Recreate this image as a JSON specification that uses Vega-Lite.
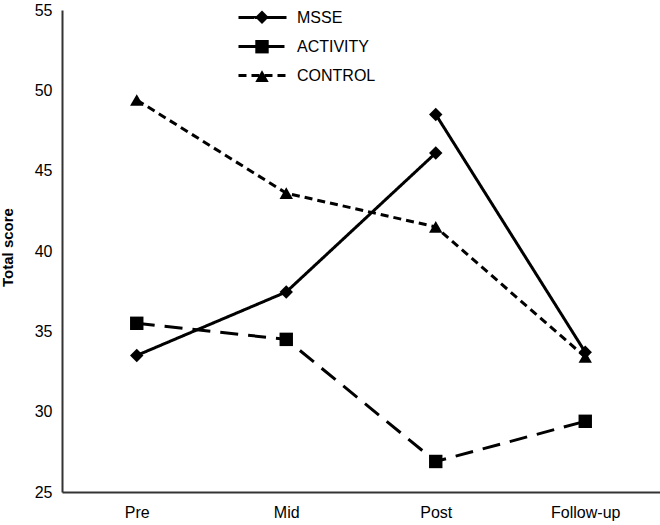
{
  "$schema": "https://vega.github.io/schema/vega-lite/v6.json",
  "width": 598,
  "height": 482,
  "autosize": {"type": "none"},
  "padding": {"left": 62, "top": 10, "right": 0, "bottom": 33},
  "background": "white",
  "config": {"view": {"stroke": null}, "font": "Liberation Sans"},
  "data": {
    "values": [
      {"group": "MSSE", "seg": "MSSE-a", "time": "Pre", "score": 33.5},
      {"group": "MSSE", "seg": "MSSE-a", "time": "Mid", "score": 37.45},
      {"group": "MSSE", "seg": "MSSE-a", "time": "Post", "score": 46.1},
      {"group": "MSSE", "seg": "MSSE-b", "time": "Post", "score": 48.5},
      {"group": "MSSE", "seg": "MSSE-b", "time": "Follow-up", "score": 33.7},
      {"group": "ACTIVITY", "seg": "ACTIVITY", "time": "Pre", "score": 35.5},
      {"group": "ACTIVITY", "seg": "ACTIVITY", "time": "Mid", "score": 34.5},
      {"group": "ACTIVITY", "seg": "ACTIVITY", "time": "Post", "score": 26.9},
      {"group": "ACTIVITY", "seg": "ACTIVITY", "time": "Follow-up", "score": 29.4},
      {"group": "CONTROL", "seg": "CONTROL", "time": "Pre", "score": 49.4},
      {"group": "CONTROL", "seg": "CONTROL", "time": "Mid", "score": 43.6},
      {"group": "CONTROL", "seg": "CONTROL", "time": "Post", "score": 41.5},
      {"group": "CONTROL", "seg": "CONTROL", "time": "Follow-up", "score": 33.4}
    ]
  },
  "encoding": {
    "x": {
      "field": "time",
      "type": "ordinal",
      "sort": ["Pre", "Mid", "Post", "Follow-up"],
      "axis": {
        "title": null,
        "labelAngle": 0,
        "ticks": false,
        "tickSize": 0,
        "labelFontSize": 16,
        "labelColor": "black",
        "labelPadding": 12,
        "domainColor": "#333333",
        "domainWidth": 2,
        "grid": false
      }
    },
    "y": {
      "field": "score",
      "type": "quantitative",
      "scale": {"domain": [25, 55], "nice": false, "zero": false},
      "axis": {
        "title": "Total score",
        "titleFontSize": 15,
        "titleFontWeight": "bold",
        "titleColor": "black",
        "titleX": -47,
        "titleY": 237,
        "titleBaseline": "bottom",
        "values": [25, 30, 35, 40, 45, 50, 55],
        "grid": false,
        "ticks": false,
        "tickSize": 0,
        "labelFlush": false,
        "labelFontSize": 16,
        "labelColor": "black",
        "labelPadding": 10,
        "domainColor": "#333333",
        "domainWidth": 2
      }
    }
  },
  "layer": [
    {
      "mark": {"type": "line", "strokeWidth": 3, "color": "black"},
      "encoding": {
        "strokeDash": {
          "field": "group",
          "type": "nominal",
          "sort": ["MSSE", "ACTIVITY", "CONTROL"],
          "scale": {"range": [[1, 0], [18, 10], [8, 5]]},
          "legend": {
            "title": null,
            "orient": "none",
            "legendX": 180,
            "legendY": -13,
            "symbolType": "M-1.277,0H1.277",
            "symbolSize": 1414,
            "symbolStrokeWidth": 3,
            "symbolStrokeColor": "black",
            "labelFontSize": 16,
            "labelColor": "black",
            "labelOffset": 14,
            "rowPadding": 0,
            "padding": 0
          }
        },
        "detail": {"field": "seg", "type": "nominal"}
      }
    },
    {
      "mark": {"type": "point", "filled": true, "color": "black", "size": 180, "opacity": 1},
      "encoding": {
        "shape": {
          "field": "group",
          "type": "nominal",
          "scale": {"domain": ["MSSE", "ACTIVITY", "CONTROL"], "range": ["diamond", "square", "triangle-up"]},
          "legend": {
            "title": null,
            "orient": "none",
            "legendX": 192,
            "legendY": -0.7,
            "symbolSize": 180,
            "symbolFillColor": "black",
            "symbolStrokeColor": "black",
            "symbolStrokeWidth": 0,
            "labelExpr": "''",
            "labelFontSize": 16,
            "rowPadding": 13.4,
            "padding": 0
          }
        }
      }
    }
  ]
}
